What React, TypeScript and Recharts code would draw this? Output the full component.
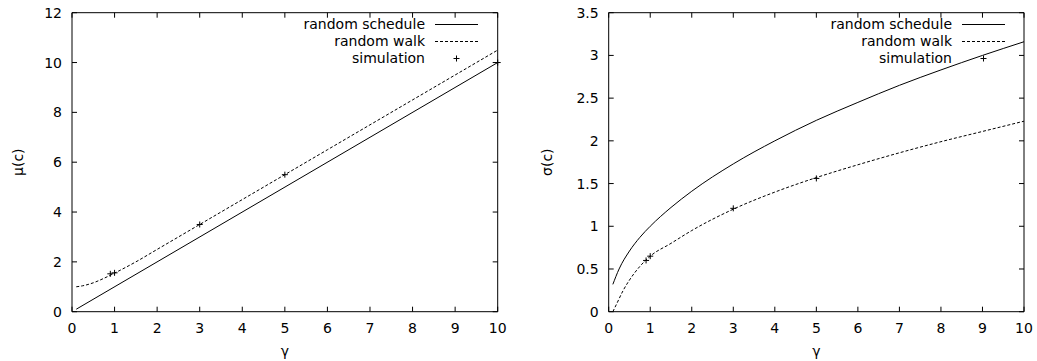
import React from "react";
import {
  ComposedChart,
  Line,
  Scatter,
  XAxis,
  YAxis,
  Legend,
} from "recharts";

const FONT = "'DejaVu Sans', sans-serif";

const gammaTicks = [0, 1, 2, 3, 4, 5, 6, 7, 8, 9, 10];
const muTicks = [0, 2, 4, 6, 8, 10, 12];
const sigmaTicks = [0, 0.5, 1, 1.5, 2, 2.5, 3, 3.5];

const seriesNames = ["random schedule", "random walk", "simulation"];

// left panel: mean
const muSchedule = [
  { x: 0.1, y: 0.1 },
  { x: 10, y: 10 },
];
const muWalk = [
  { x: 0.1, y: 1.0 },
  { x: 0.25, y: 1.04 },
  { x: 0.5, y: 1.16 },
  { x: 0.75, y: 1.34 },
  { x: 1, y: 1.55 },
  { x: 1.5, y: 2.0 },
  { x: 2, y: 2.5 },
  { x: 3, y: 3.5 },
  { x: 4, y: 4.5 },
  { x: 5, y: 5.5 },
  { x: 6, y: 6.5 },
  { x: 7, y: 7.5 },
  { x: 8, y: 8.5 },
  { x: 9, y: 9.5 },
  { x: 10, y: 10.5 },
];
const muSim = [
  { x: 0.9, y: 1.52 },
  { x: 1, y: 1.56 },
  { x: 3, y: 3.5 },
  { x: 5, y: 5.5 },
  { x: 10, y: 10.0 },
];

// right panel: std dev
const sigmaSchedule = [
  { x: 0.1, y: 0.32 },
  { x: 0.25, y: 0.5 },
  { x: 0.5, y: 0.71 },
  { x: 0.75, y: 0.87 },
  { x: 1, y: 1.0 },
  { x: 1.5, y: 1.22 },
  { x: 2, y: 1.41 },
  { x: 3, y: 1.73 },
  { x: 4, y: 2.0 },
  { x: 5, y: 2.24 },
  { x: 6, y: 2.45 },
  { x: 7, y: 2.65 },
  { x: 8, y: 2.83 },
  { x: 9, y: 3.0 },
  { x: 10, y: 3.16 },
];
const sigmaWalk = [
  { x: 0.1, y: 0.0 },
  { x: 0.2, y: 0.1 },
  { x: 0.35, y: 0.25 },
  { x: 0.5, y: 0.37 },
  { x: 0.75, y: 0.53 },
  { x: 1, y: 0.65 },
  { x: 1.5, y: 0.8 },
  { x: 2, y: 0.95 },
  { x: 3, y: 1.2 },
  { x: 4, y: 1.4 },
  { x: 5, y: 1.57 },
  { x: 6, y: 1.72 },
  { x: 7, y: 1.86 },
  { x: 8, y: 1.99 },
  { x: 9, y: 2.11 },
  { x: 10, y: 2.23 },
];
const sigmaSim = [
  { x: 0.9, y: 0.6 },
  { x: 1, y: 0.65 },
  { x: 3, y: 1.21 },
  { x: 5, y: 1.56 },
];

const TICK = 5;

const XTick = ({ x, y, payload }: any) => (
  <g>
    <line x1={x} y1={y} x2={x} y2={y - TICK} stroke="#000" />
    <text x={x} y={y + 21.6} textAnchor="middle" fontFamily={FONT} fontSize={14} fill="#000">
      {payload.value}
    </text>
  </g>
);
const YTick = ({ x, y, payload }: any) => (
  <g>
    <line x1={x} y1={y} x2={x + TICK} y2={y} stroke="#000" />
    <text x={x - 10} y={y + 5} textAnchor="end" fontFamily={FONT} fontSize={14} fill="#000">
      {payload.value}
    </text>
  </g>
);
const TopTick = ({ x, y }: any) => <line x1={x} y1={y} x2={x} y2={y + TICK} stroke="#000" />;
const RightTick = ({ x, y }: any) => <line x1={x} y1={y} x2={x - TICK} y2={y} stroke="#000" />;

const Plus = ({ cx, cy }: any) => (
  <path d={`M${cx - 3},${cy}H${cx + 3}M${cx},${cy - 3}V${cy + 3}`} stroke="#000" strokeWidth={1} />
);

const renderLegend = () => (
  <div style={{ fontFamily: FONT, fontSize: 14, color: "#000" }}>
    {seriesNames.map((name, i) => (
      <div key={name} style={{ display: "flex", alignItems: "center", justifyContent: "flex-end", height: 17 }}>
        <span style={{ whiteSpace: "nowrap", lineHeight: "17px" }}>{name}</span>
        <svg width={53} height={17} style={{ display: "block" }}>
          {i === 0 && <line x1={10} y1={8.5} x2={53} y2={8.5} stroke="#000" />}
          {i === 1 && <line x1={10} y1={8.5} x2={53} y2={8.5} stroke="#000" strokeDasharray="3 2" />}
          {i === 2 && <Plus cx={31.5} cy={8.5} />}
        </svg>
      </div>
    ))}
  </div>
);

const YTitle = ({ viewBox, value, dx }: any) => {
  const cx = viewBox.x + dx;
  const cy = viewBox.y + viewBox.height / 2;
  return (
    <text x={cx} y={cy} transform={`rotate(-90 ${cx} ${cy})`} textAnchor="middle" dominantBaseline="central" fontFamily={FONT} fontSize={14} fill="#000">
      {value}
    </text>
  );
};
const XTitle = ({ viewBox }: any) => (
  <text x={viewBox.x + viewBox.width / 2} y={viewBox.y + 44} textAnchor="middle" fontFamily={FONT} fontSize={14} fill="#000">
    γ
  </text>
);

function Panel({ width, marginLeft, marginRight, yDomain, yTicks, yLabel, yLabelDx, legendRight, schedule, walk, sim }: any) {
  return (
    <ComposedChart width={width} height={361} margin={{ top: 11.7, right: marginRight - 1, bottom: 0, left: marginLeft }}>
      <XAxis dataKey="x" type="number" domain={[0, 10]} ticks={gammaTicks} height={49.3} tickSize={0} tickMargin={0} tickLine={false} tick={<XTick />} axisLine={{ stroke: "#000" }} label={<XTitle />} />
      <XAxis xAxisId="top" dataKey="x" type="number" orientation="top" domain={[0, 10]} ticks={gammaTicks} height={1} tickSize={0} tickMargin={0} tickLine={false} tick={<TopTick />} axisLine={{ stroke: "#000" }} />
      <YAxis dataKey="y" type="number" domain={yDomain} ticks={yTicks} width={60} tickSize={0} tickMargin={0} tickLine={false} tick={<YTick />} axisLine={{ stroke: "#000" }} label={<YTitle value={yLabel} dx={yLabelDx} />} />
      <YAxis yAxisId="right" dataKey="y" type="number" orientation="right" domain={yDomain} ticks={yTicks} width={1} tickSize={0} tickMargin={0} tickLine={false} tick={<RightTick />} axisLine={{ stroke: "#000" }} />
      {/* invisible series so the mirrored top/right axes get drawn */}
      <Line data={schedule} dataKey="y" xAxisId="top" yAxisId="right" stroke="none" dot={false} activeDot={false} legendType="none" isAnimationActive={false} />
      <Line data={schedule} dataKey="y" name={seriesNames[0]} type="monotone" stroke="#000" strokeWidth={1} dot={false} isAnimationActive={false} />
      <Line data={walk} dataKey="y" name={seriesNames[1]} type="monotone" stroke="#000" strokeWidth={1} strokeDasharray="3 2" dot={false} isAnimationActive={false} />
      <Scatter data={sim} dataKey="y" name={seriesNames[2]} shape={<Plus />} isAnimationActive={false} />
      <Legend content={renderLegend} verticalAlign="middle" align="center" layout="vertical" wrapperStyle={{ top: 15.5, right: legendRight, width: "auto" }} />
    </ComposedChart>
  );
}

export default function App() {
  return (
    <div style={{ position: "absolute", left: 0, top: 0, width: 1037, height: 361, display: "flex", background: "#fff" }}>
      <Panel width={518} marginLeft={12} marginRight={20.3} yDomain={[0, 12]} yTicks={muTicks} yLabel="μ(c)" yLabelDx={6} legendRight={40} schedule={muSchedule} walk={muWalk} sim={muSim} />
      <Panel width={519} marginLeft={30.7} marginRight={13} yDomain={[0, 3.5]} yTicks={sigmaTicks} yLabel="σ(c)" yLabelDx={-1.7} legendRight={32} schedule={sigmaSchedule} walk={sigmaWalk} sim={sigmaSim} />
    </div>
  );
}
